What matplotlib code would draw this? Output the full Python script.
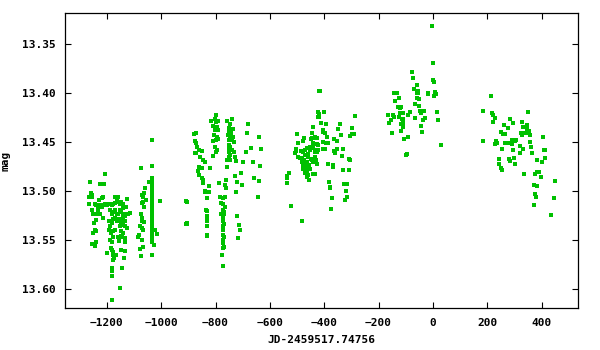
import matplotlib
matplotlib.use("Agg")
import matplotlib.pyplot as plt

# photometry, grouped by observing season (JD - 2459517.74756, mag)
s1_jd = [-1207, -1261, -1224, -1209, -1267, -1259, -1254, -1255, -1229, -1219, -1213, -1244, -1238, -1231,
         -1225, -1219, -1213, -1207, -1201, -1191, -1182, -1176, -1170, -1164, -1158, -1170, -1164, -1152,
         -1146, -1140, -1142, -1130, -1127, -1115, -1265, -1256, -1250, -1238, -1231, -1225, -1215, -1240,
         -1246, -1189, -1182, -1176, -1170, -1164, -1158, -1152, -1146, -1140, -1133, -1127, -1121, -1191,
         -1182, -1176, -1170, -1162, -1154, -1148, -1140, -1133, -1142, -1133, -1127, -1152, -1189, -1192,
         -1186, -1176, -1170, -1146, -1140, -1158, -1149, -1252, -1244, -1240, -1189, -1176, -1182, -1154,
         -1144, -1132, -1132, -1240, -1254, -1244, -1201, -1186, -1182, -1176, -1179, -1174, -1176, -1148,
         -1132, -1166, -1136, -1180, -1180, -1180, -1144, -1150, -1180]
s1_mag = [13.483, 13.491, 13.493, 13.493, 13.506, 13.502, 13.504, 13.506, 13.509, 13.507, 13.506, 13.513,
          13.514, 13.516, 13.514, 13.516, 13.514, 13.513, 13.514, 13.513, 13.514, 13.513, 13.512, 13.509,
          13.506, 13.506, 13.511, 13.513, 13.511, 13.513, 13.517, 13.516, 13.508, 13.522, 13.513, 13.519,
          13.524, 13.523, 13.519, 13.523, 13.528, 13.530, 13.533, 13.519, 13.523, 13.521, 13.519, 13.523,
          13.524, 13.519, 13.521, 13.523, 13.526, 13.524, 13.524, 13.531, 13.533, 13.529, 13.528, 13.531,
          13.529, 13.532, 13.528, 13.531, 13.535, 13.536, 13.538, 13.536, 13.536, 13.540, 13.543, 13.541,
          13.540, 13.541, 13.543, 13.547, 13.546, 13.543, 13.540, 13.541, 13.550, 13.547, 13.552, 13.551,
          13.547, 13.548, 13.552, 13.552, 13.554, 13.556, 13.563, 13.558, 13.560, 13.562, 13.565, 13.568,
          13.570, 13.560, 13.561, 13.565, 13.568, 13.579, 13.582, 13.587, 13.579, 13.599, 13.611]

s2_jd = [-1073, -1033, -1044, -1060, -1072, -1063, -1068, -1072, -1066, -1056, -1063, -1074, -1072, -1069,
         -1063, -1078, -1072, -1081, -1068, -1084, -1072, -1068, -1078, -1073, -1025, -1033, -1017, -1022,
         -1003, -1034, -1034, -1034, -1035, -1034, -1033, -1034, -1035, -1034, -1034, -1033, -1034, -1035,
         -1034, -1034, -1033, -1034, -1035, -1034, -1034, -1033, -1034, -1035, -1034, -1034, -906, -906,
         -909]
s2_mag = [13.477, 13.475, 13.491, 13.497, 13.504, 13.502, 13.506, 13.512, 13.511, 13.509, 13.516, 13.523,
          13.528, 13.531, 13.532, 13.536, 13.538, 13.545, 13.540, 13.547, 13.550, 13.557, 13.559, 13.566,
          13.555, 13.565, 13.544, 13.540, 13.510, 13.448, 13.487, 13.490, 13.493, 13.496, 13.499, 13.502,
          13.505, 13.508, 13.511, 13.514, 13.517, 13.520, 13.523, 13.526, 13.529, 13.532, 13.535, 13.538,
          13.541, 13.544, 13.547, 13.550, 13.552, 13.519, 13.511, 13.534, 13.534]

s3_jd = [-797, -816, -803, -798, -790, -808, -796, -802, -790, -806, -796, -808, -798, -790, -801, -794, -798,
         -808, -878, -871, -875, -872, -867, -860, -877, -870, -851, -857, -845, -840, -860, -849, -864, -860,
         -849, -845, -845, -819, -823, -839, -837, -823, -830, -757, -738, -746, -752, -735, -749, -743, -753,
         -747, -737, -741, -732, -752, -749, -745, -740, -752, -749, -752, -745, -732, -727, -747, -757, -724,
         -757, -679, -683, -639, -668, -632, -686, -698, -661, -635, -705, -727, -659, -639, -760, -786, -765,
         -762, -702, -722, -724, -784, -774, -764, -781, -771, -765, -774, -768, -778, -769, -771, -774, -769,
         -774, -771, -774, -769, -771, -774, -769, -771, -775, -771, -909, -906, -904, -835, -830, -833, -830,
         -830, -833, -833, -830, -720, -713, -710, -716, -643]
s3_mag = [13.423, 13.429, 13.427, 13.430, 13.429, 13.434, 13.435, 13.438, 13.438, 13.443, 13.445, 13.449,
          13.448, 13.447, 13.455, 13.458, 13.460, 13.464, 13.442, 13.441, 13.449, 13.451, 13.455, 13.458,
          13.461, 13.461, 13.459, 13.465, 13.468, 13.470, 13.476, 13.477, 13.480, 13.484, 13.487, 13.489,
          13.492, 13.477, 13.495, 13.501, 13.500, 13.501, 13.507, 13.429, 13.427, 13.432, 13.436, 13.437,
          13.439, 13.441, 13.443, 13.445, 13.445, 13.448, 13.450, 13.448, 13.453, 13.455, 13.458, 13.456,
          13.460, 13.465, 13.463, 13.460, 13.465, 13.468, 13.468, 13.469, 13.476, 13.432, 13.441, 13.445,
          13.456, 13.457, 13.460, 13.470, 13.470, 13.475, 13.482, 13.485, 13.487, 13.490, 13.489, 13.492,
          13.494, 13.497, 13.494, 13.491, 13.501, 13.506, 13.507, 13.506, 13.512, 13.513, 13.516, 13.519,
          13.521, 13.523, 13.524, 13.528, 13.531, 13.534, 13.536, 13.540, 13.545, 13.547, 13.550, 13.553,
          13.557, 13.558, 13.565, 13.577, 13.510, 13.534, 13.533, 13.519, 13.520, 13.526, 13.530, 13.531,
          13.536, 13.546, 13.545, 13.526, 13.535, 13.540, 13.548, 13.506]

s4_jd = [-499, -473, -477, -495, -504, -486, -471, -481, -488, -467, -459, -475, -479, -465, -477, -471, -462,
         -479, -465, -452, -471, -440, -444, -433, -448, -443, -428, -440, -452, -434, -422, -438, -446, -430,
         -428, -440, -434, -465, -455, -422, -421, -418, -528, -536, -536, -536, -521, -481, -415, -422, -400,
         -418, -418, -411, -393, -404, -396, -404, -389, -404, -395, -386, -422, -404, -341, -348, -337, -363,
         -352, -288, -286, -297, -304, -298, -289, -363, -352, -330, -359, -334, -308, -304, -385, -367, -367,
         -330, -308, -381, -378, -378, -326, -315, -319, -315, -322, -370, -374, -477, -465, -453, -440, -434,
         -428, -471, -459, -447, -434, -483, -468, -455, -442, -477, -465, -453, -471, -459, -462, -455, -496,
         -502, -506, -444, -433, -428, -398, -392]
s4_mag = [13.442, 13.446, 13.449, 13.451, 13.457, 13.459, 13.458, 13.466, 13.466, 13.463, 13.462, 13.468,
          13.471, 13.470, 13.473, 13.478, 13.476, 13.478, 13.480, 13.478, 13.482, 13.435, 13.441, 13.445,
          13.447, 13.451, 13.452, 13.456, 13.458, 13.460, 13.458, 13.467, 13.468, 13.468, 13.473, 13.483,
          13.483, 13.486, 13.489, 13.419, 13.425, 13.398, 13.482, 13.485, 13.487, 13.492, 13.515, 13.531,
          13.398, 13.419, 13.419, 13.421, 13.425, 13.431, 13.432, 13.438, 13.441, 13.440, 13.445, 13.450,
          13.451, 13.451, 13.453, 13.457, 13.432, 13.437, 13.443, 13.447, 13.449, 13.424, 13.424, 13.436,
          13.444, 13.442, 13.442, 13.459, 13.457, 13.457, 13.461, 13.464, 13.467, 13.468, 13.472, 13.474,
          13.476, 13.479, 13.479, 13.491, 13.496, 13.497, 13.493, 13.493, 13.500, 13.506, 13.509, 13.507,
          13.518, 13.460, 13.456, 13.455, 13.455, 13.458, 13.460, 13.463, 13.465, 13.467, 13.465, 13.470,
          13.472, 13.474, 13.470, 13.477, 13.479, 13.478, 13.480, 13.484, 13.486, 13.489, 13.465, 13.459,
          13.461, 13.446, 13.446, 13.446, 13.457, 13.451]

s5_jd = [-2, 1, -76, -72, 1, 5, -58, -69, -54, -60, -55, -142, -131, -17, -17, 8, 13, 5, -124, -58, -50, -139,
         -65, -128, -116, -121, -50, -48, -32, -43, -83, 16, -116, -111, -121, -164, -146, -91, -142, -124, -28,
         -65, -153, -113, -109, -36, 20, -161, -116, -109, -43, -109, -116, -39, -150, -91, -105, 31, -94, -98]
s5_mag = [13.332, 13.369, 13.379, 13.385, 13.387, 13.389, 13.392, 13.396, 13.398, 13.400, 13.400, 13.400,
          13.400, 13.400, 13.401, 13.399, 13.401, 13.403, 13.405, 13.405, 13.406, 13.408, 13.411, 13.414,
          13.414, 13.415, 13.413, 13.418, 13.418, 13.420, 13.419, 13.419, 13.420, 13.420, 13.420, 13.422,
          13.422, 13.423, 13.425, 13.425, 13.426, 13.426, 13.428, 13.427, 13.427, 13.428, 13.428, 13.431,
          13.432, 13.431, 13.434, 13.435, 13.439, 13.440, 13.441, 13.445, 13.447, 13.453, 13.462, 13.463]

s6_jd = [215, 185, 218, 222, 229, 351, 222, 285, 296, 263, 277, 329, 333, 347, 347, 355, 252, 259, 266, 325,
         331, 340, 344, 329, 358, 406, 185, 233, 237, 229, 266, 281, 292, 303, 307, 292, 358, 322, 362, 255,
         296, 333, 410, 414, 366, 322, 244, 281, 285, 299, 303, 244, 384, 403, 414, 252, 255, 336, 377, 384,
         391, 399, 450, 373, 384, 377, 380, 447, 373, 436]
s6_mag = [13.403, 13.418, 13.420, 13.423, 13.426, 13.419, 13.430, 13.427, 13.431, 13.433, 13.436, 13.430,
          13.435, 13.433, 13.437, 13.439, 13.440, 13.442, 13.442, 13.441, 13.441, 13.441, 13.441, 13.443,
          13.443, 13.445, 13.449, 13.449, 13.451, 13.452, 13.451, 13.451, 13.448, 13.449, 13.448, 13.452,
          13.450, 13.454, 13.455, 13.457, 13.458, 13.457, 13.458, 13.458, 13.461, 13.461, 13.467, 13.467,
          13.469, 13.466, 13.472, 13.472, 13.468, 13.470, 13.466, 13.477, 13.479, 13.483, 13.483, 13.481,
          13.481, 13.486, 13.490, 13.494, 13.495, 13.503, 13.506, 13.507, 13.514, 13.525]

seasons = [(s1_jd, s1_mag), (s2_jd, s2_mag), (s3_jd, s3_mag),
           (s4_jd, s4_mag), (s5_jd, s5_mag), (s6_jd, s6_mag)]

x_ticks = [-1200, -1000, -800, -600, -400, -200, 0, 200, 400]
y_ticks = [13.35, 13.40, 13.45, 13.50, 13.55, 13.60]

plt.rcParams['font.family'] = ['DejaVu Sans Mono']
plt.rcParams['font.weight'] = 'bold'

fig = plt.figure(figsize=(6, 3.5), dpi=100)
ax = fig.add_axes([0.1083, 0.12, 0.855, 0.843])

for jd, mag in seasons:
    ax.plot(jd, mag, 's', color='#00c000', markersize=2.6, markeredgewidth=0)

ax.set_xlim(-1354, 534)
ax.set_ylim(13.6194, 13.3184)
ax.set_xticks(x_ticks)
ax.set_yticks(y_ticks)
ax.set_yticklabels([f"{v:.2f}" for v in y_ticks])
ax.tick_params(direction='in', length=4, width=0.8, top=True, right=True,
               labelsize=8, pad=7, colors='black')
for sp in ax.spines.values():
    sp.set_linewidth(0.9)

ax.set_xlabel('JD-2459517.74756', fontsize=8, fontweight='bold', labelpad=5)
ax.set_ylabel('mag', fontsize=8, fontweight='bold', labelpad=8)

fig.savefig('out.png', dpi=100)
